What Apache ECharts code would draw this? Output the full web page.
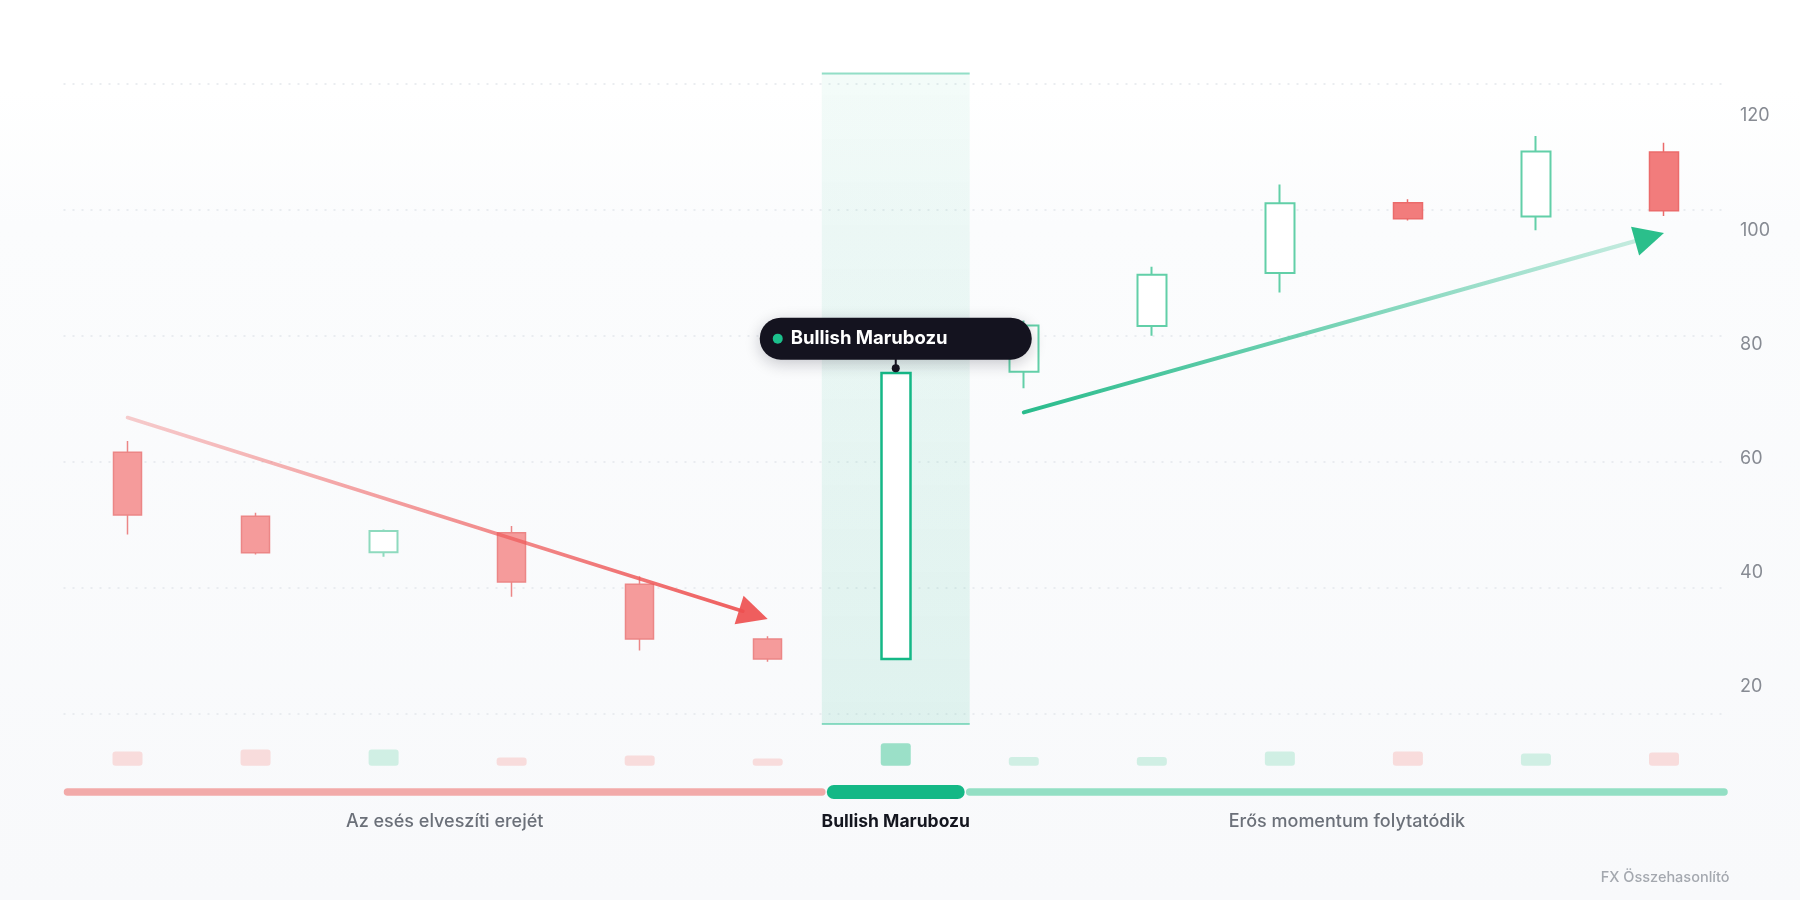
<!DOCTYPE html>
<html>
<head>
<meta charset="utf-8">
<script src="https://cdn.jsdelivr.net/npm/echarts@6/dist/echarts.min.js"></script>
<style>
html, body { margin: 0; padding: 0; width: 1800px; height: 900px; overflow: hidden;
  background: linear-gradient(180deg, #ffffff 0%, #ffffff 10%, #fbfcfd 25%, #f8f9fb 100%); }
#chart { width: 1800px; height: 900px; }
</style>
</head>
<body>
<div id="chart"></div>
<script>
// ---------- data ----------
const categories = ['1', '2', '3', '4', '5', '6', '7', '8', '9', '10', '11', '12', '13'];
const opens   = [61.1, 49.9, 43.6, 47.0, 38.0, 28.4, 24.9, 75.2, 83.2, 92.5, 104.8, 102.4, 113.7];
const closes  = [50.1, 43.5, 47.3, 38.4, 28.4, 24.9, 75.0, 83.3, 92.2, 104.7, 102.0, 113.8, 103.4];
const lows    = [46.7, 43.2, 42.8, 35.8, 26.4, 24.4, 24.9, 72.3, 81.5, 89.1, 101.7, 100.0, 102.5];
const highs   = [63.1, 50.5, 47.6, 48.2, 39.4, 28.9, 75.0, 84.2, 93.6, 108.0, 105.4, 116.5, 115.3];
const volumes = [143, 163, 163, 83, 103, 73, 224, 87, 87, 143, 143, 123, 133];
const yTickLabels = [20, 40, 60, 80, 100, 120];
const yMin = 15.27;
const yMax = 125.6;
const volMax = 224;
const signalIndex = 6;
const signalName = 'Bullish Marubozu';
const phaseNames = ['Az esés elveszíti erejét', 'Bullish Marubozu', 'Erős momentum folytatódik'];
const phaseStart = [0, 6, 7];
const phaseEnd   = [5, 6, 12];
const arrowFromX = [0, 7];
const arrowFromY = [67.2, 68.1];
const arrowToX   = [5.02, 12.02];
const arrowToY   = [31.9, 99.5];
const watermark = 'FX Összehasonlító';

// ---------- styles ----------
const FONT = 'Inter, "Noto Sans", sans-serif';
const GREEN = '#14b886';

function candleStyle(i) {
  const up = closes[i] > opens[i];
  if (i === signalIndex) {
    return { color: '#ffffff', color0: '#ffffff', borderColor: GREEN, borderColor0: GREEN, borderWidth: 2.5 };
  }
  const early = i < signalIndex;
  if (up) {
    const b = early ? '#8edabe' : '#62cfa8';
    return { color: '#ffffff', color0: '#ffffff', borderColor: b, borderColor0: b, borderWidth: 2 };
  }
  const f = early ? '#f59b9b' : '#f27c7c';
  const b = early ? '#ec8686' : '#eb6b6b';
  return { color: f, color0: f, borderColor: b, borderColor0: b, borderWidth: 1.5 };
}
function volColor(i) {
  if (i === signalIndex) return '#9be0c8';
  return closes[i] > opens[i] ? '#d0efe4' : '#f8dcdc';
}

const candleData = categories.map((c, i) => ({
  value: [opens[i], closes[i], lows[i], highs[i]],
  itemStyle: candleStyle(i)
}));
const volData = categories.map((c, i) => ({
  value: volumes[i],
  itemStyle: { color: volColor(i), borderRadius: 3 }
}));

const chart = echarts.init(document.getElementById('chart'), null, { renderer: 'canvas' });

const option = {
  animation: false,
  backgroundColor: 'transparent',
  grid: [
    { left: 63.5, right: 72, top: 84, bottom: 186 },
    { left: 63.5, right: 72, top: 743.3, height: 22.4 }
  ],
  xAxis: [
    { type: 'category', data: categories, gridIndex: 0, axisLine: { show: false }, axisTick: { show: false }, axisLabel: { show: false }, splitLine: { show: false } },
    { type: 'category', data: categories, gridIndex: 1, axisLine: { show: false }, axisTick: { show: false }, axisLabel: { show: false }, splitLine: { show: false } }
  ],
  yAxis: [
    {
      type: 'value', gridIndex: 0, position: 'right', min: yMin, max: yMax,
      axisLine: { show: false }, axisTick: { show: false }, splitLine: { show: false },
      axisLabel: { customValues: yTickLabels, color: '#878b93', fontSize: 18, fontFamily: FONT, margin: 12 }
    },
    {
      type: 'value', gridIndex: 0, position: 'left', min: 0, max: 5, interval: 1,
      axisLine: { show: false }, axisTick: { show: false }, axisLabel: { show: false },
      splitLine: { show: true, lineStyle: { color: '#e4e7eb', width: 1.5, type: [2, 7] } }
    },
    {
      type: 'value', gridIndex: 1, min: 0, max: volMax, show: false,
      axisLine: { show: false }, axisTick: { show: false }, axisLabel: { show: false }, splitLine: { show: false }
    }
  ],
  graphic: [
    { type: 'text', right: 70.5, top: 870, style: { text: watermark, fill: '#a4a8af', font: '500 14.5px ' + FONT } }
  ],
  series: [
    // highlight band behind the signal candle
    {
      type: 'custom', xAxisIndex: 0, yAxisIndex: 0, z: 1, clip: false, silent: true,
      data: [[signalIndex, closes[signalIndex]]],
      encode: { x: 0, y: 1 },
      renderItem: function (params, api) {
        const t = api.coord([api.value(0), yMax]);
        const b = api.coord([api.value(0), yMin]);
        const bw = api.size([1, 0])[0] * 1.155;
        const x = t[0] - bw / 2, top = t[1] - 10.5, bottom = b[1] + 10;
        return { type: 'group', children: [
          { type: 'rect', shape: { x: x, y: top, width: bw, height: bottom - top },
            style: { fill: new echarts.graphic.LinearGradient(0, 0, 0, 1, [
              { offset: 0, color: 'rgba(20,184,134,0.05)' },
              { offset: 1, color: 'rgba(20,184,134,0.11)' }]) } },
          { type: 'line', shape: { x1: x, y1: top, x2: x + bw, y2: top }, style: { stroke: 'rgba(20,184,134,0.45)', lineWidth: 2 } },
          { type: 'line', shape: { x1: x, y1: bottom, x2: x + bw, y2: bottom }, style: { stroke: 'rgba(20,184,134,0.45)', lineWidth: 2 } }
        ] };
      }
    },
    {
      type: 'candlestick', xAxisIndex: 0, yAxisIndex: 0, z: 3, barWidth: 29,
      data: candleData
    },
    {
      type: 'bar', xAxisIndex: 1, yAxisIndex: 2, barWidth: 30, data: volData, silent: true
    },
    // trend arrows
    {
      type: 'custom', xAxisIndex: 0, yAxisIndex: 0, z: 5, clip: false, silent: true,
      data: arrowFromX.map((x, i) => [x, arrowFromY[i], arrowToX[i], arrowToY[i], i]),
      encode: { x: [0, 2], y: [1, 3] },
      renderItem: function (params, api) {
        const p0 = api.coord([api.value(0), api.value(1)]);
        const p1 = api.coord([api.value(2), api.value(3)]);
        const dx = p1[0] - p0[0], dy = p1[1] - p0[1];
        const L = Math.hypot(dx, dy), ux = dx / L, uy = dy / L, nx = -uy, ny = ux;
        const headLen = 30, headHalf = 15;
        const bx = p1[0] - ux * headLen, by = p1[1] - uy * headLen;
        const down = dy > 0;
        const stops = down
          ? [{ offset: 0, color: 'rgba(238,92,92,0.3)' }, { offset: 1, color: 'rgba(238,88,88,0.95)' }]
          : [{ offset: 0, color: 'rgba(30,184,134,0.95)' }, { offset: 1, color: 'rgba(30,184,134,0.25)' }];
        const grad = new echarts.graphic.LinearGradient(p0[0], p0[1], bx, by, stops, true);
        return { type: 'group', children: [
          { type: 'line', shape: { x1: p0[0], y1: p0[1], x2: bx + ux * 4, y2: by + uy * 4 },
            style: { stroke: grad, lineWidth: down ? 3.6 : 4, lineCap: 'round' } },
          { type: 'polygon', shape: { points: [[p1[0], p1[1]], [bx + nx * headHalf, by + ny * headHalf], [bx - nx * headHalf, by - ny * headHalf]] },
            style: { fill: down ? 'rgba(238,80,80,0.92)' : '#2bbf8b' } }
        ] };
      }
    },
    // phase bar and labels
    {
      type: 'custom', xAxisIndex: 0, yAxisIndex: 0, z: 5, clip: false, silent: true,
      data: phaseStart.map((s, i) => [s, phaseEnd[i], i]),
      encode: { x: [0, 1] },
      renderItem: function (params, api) {
        const s = api.value(0), e = api.value(1), i = api.value(2);
        const cw = api.size([1, 0])[0];
        const left = api.coord([s, yMin])[0] - cw / 2;
        const right = api.coord([e, yMin])[0] + cw / 2;
        const gb = api.coord([s, yMin])[1];
        const sig = api.coord([signalIndex, yMin])[0];
        const bw = cw * 1.155;
        const bandL = sig - bw / 2, bandR = sig + bw / 2;
        const barY = gb + 78, labelY = gb + 108;
        let shape, label;
        if (e < signalIndex) {
          shape = { type: 'line', shape: { x1: left + 4, y1: barY, x2: bandL, y2: barY }, style: { stroke: '#f2aaa9', lineWidth: 7.5, lineCap: 'round' } };
          label = { x: (left + 4 + bandL) / 2, color: '#6b7079', weight: 500, size: 18 };
        } else if (s > signalIndex) {
          shape = { type: 'line', shape: { x1: bandR, y1: barY, x2: right - 4, y2: barY }, style: { stroke: '#93dfc4', lineWidth: 7.5, lineCap: 'round' } };
          label = { x: (bandR + right - 4) / 2, color: '#6b7079', weight: 500, size: 18 };
        } else {
          shape = { type: 'rect', shape: { x: bandL + 5, y: barY - 7, width: bw - 10, height: 14, r: 7 }, style: { fill: GREEN } };
          label = { x: sig, color: '#14161f', weight: 700, size: 17.5 };
        }
        return { type: 'group', children: [
          shape,
          { type: 'text', x: label.x, y: labelY, style: { text: phaseNames[i], fill: label.color,
            font: label.weight + ' ' + label.size + 'px ' + FONT, align: 'center', verticalAlign: 'middle' } }
        ] };
      }
    },
    // callout for the signal candle
    {
      type: 'custom', xAxisIndex: 0, yAxisIndex: 0, z: 10, clip: false, silent: true,
      data: [[signalIndex, closes[signalIndex]]],
      encode: { x: 0, y: 1 },
      renderItem: function (params, api) {
        const p = api.coord([api.value(0), api.value(1)]);
        const dotY = p[1] - 4.6;
        const pillB = dotY - 8.7, H = 42, W = 272;
        const pillT = pillB - H, pillL = p[0] - W / 2;
        return { type: 'group', children: [
          { type: 'line', shape: { x1: p[0], y1: pillB - 2, x2: p[0], y2: dotY }, style: { stroke: '#14131f', lineWidth: 2 } },
          { type: 'circle', shape: { cx: p[0], cy: dotY, r: 4 }, style: { fill: '#14131f' } },
          { type: 'rect', shape: { x: pillL, y: pillT, width: W, height: H, r: H / 2 },
            style: { fill: '#14131f', shadowBlur: 16, shadowColor: 'rgba(15,15,30,0.22)', shadowOffsetY: 4 } },
          { type: 'circle', shape: { cx: pillL + 18, cy: pillT + H / 2, r: 5 }, style: { fill: '#1cc08c' } },
          { type: 'text', x: pillL + 31, y: pillT + H / 2, style: { text: signalName, fill: '#ffffff',
            font: '700 18.5px ' + FONT, align: 'left', verticalAlign: 'middle' } }
        ] };
      }
    }
  ]
};
chart.setOption(option);
</script>
</body>
</html>
